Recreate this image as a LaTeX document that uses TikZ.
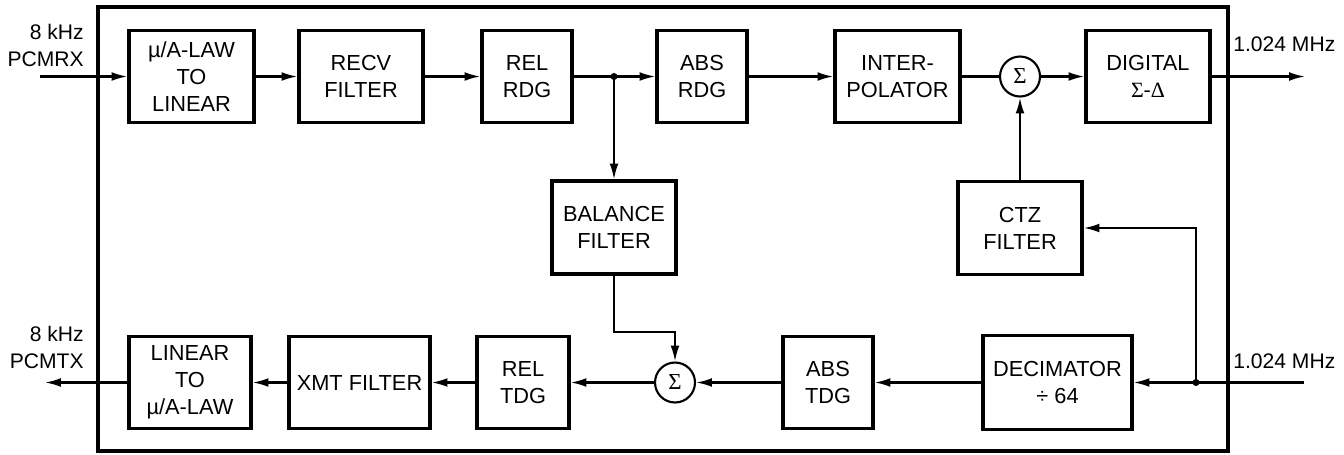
\documentclass[tikz,border=0pt]{standalone}
\usepackage{fontspec}
\setmainfont{Liberation Sans}
\newfontfamily\symfont{Liberation Serif}
\usetikzlibrary{arrows.meta}

\begin{document}
\begin{tikzpicture}[x=0.02cm, y=-0.02cm, >={Latex[length=9pt,width=5pt]},
    box/.style={draw, line width=1.8pt, align=center, inner sep=0pt,
        minimum height=1.84cm, font=\fontsize{12.4}{15.3}\selectfont},
    sumnode/.style={draw, circle, line width=1.2pt, minimum size=0.8cm,
        inner sep=0pt, font=\symfont\fontsize{13}{13}\selectfont},
    wire/.style={line width=1.2pt},
    lbl/.style={inner sep=0pt, align=right, font=\fontsize{12}{15.3}\selectfont}]
    \useasboundingbox (0,0) rectangle (1344,454);

    % 外框
    \draw[line width=1.8pt] (98,7) rectangle (1228,451);

    % 接收通道
    \node[box, minimum width=2.5cm] (mulaw) at (191.5,76.5) {µ/A-LAW\\TO\\LINEAR};
    \node[box, minimum width=2.48cm] (recv) at (361,76.5) {RECV\\FILTER};
    \node[box, minimum width=1.8cm] (relrdg) at (527,76.5) {REL\\RDG};
    \node[box, minimum width=1.8cm] (absrdg) at (702,76.5) {ABS\\RDG};
    \node[box, minimum width=2.5cm] (interp) at (897.5,76.5) {INTER-\\POLATOR};
    \node[sumnode] (sumr) at (1020,76.5) {Σ};
    \node[box, minimum width=2.48cm] (digital) at (1148,76.5) {DIGITAL\\{\symfont Σ}-{\symfont Δ}};

    % 中间
    \node[box, minimum width=2.48cm, minimum height=1.86cm] (balance) at (614,227.5) {BALANCE\\FILTER};
    \node[box, minimum width=2.48cm, minimum height=1.86cm] (ctz) at (1020,228) {CTZ\\FILTER};

    % 发送通道
    \node[box, minimum width=2.44cm] (lin) at (190,382.5) {LINEAR\\TO\\µ/A-LAW};
    \node[box, minimum width=2.82cm] (xmt) at (359.5,382.5) {XMT FILTER};
    \node[box, minimum width=1.84cm] (reltdg) at (523,382.5) {REL\\TDG};
    \node[sumnode] (sumt) at (675,382.5) {Σ};
    \node[box, minimum width=1.8cm] (abstdg) at (828,382.5) {ABS\\TDG};
    \node[box, minimum width=2.98cm, minimum height=1.88cm] (decim) at (1057.5,382.5) {DECIMATOR\\÷ 64};

    % 端口标注
    \node[lbl, anchor=south east] (rxlbl) at (84,67) {8 kHz\\PCMRX};
    \node[lbl, anchor=south east] (txlbl) at (84,369) {8 kHz\\PCMTX};
    \node[lbl, anchor=south west, align=left] (doutlbl) at (1233,52) {1.024 MHz};
    \node[lbl, anchor=south west, align=left] (dinlbl) at (1233,369) {1.024 MHz};

    \coordinate (rxin) at (40,76.5);
    \coordinate (txout) at (45,382.5);
    \coordinate (dout) at (1305,76.5);
    \coordinate (din) at (1304,382.5);
    \coordinate (split) at (614,76.5);
    \coordinate (fork) at (1196,382.5);
    \coordinate (bend) at (675,332);

    % 上排连线
    \draw[wire, ->] (rxin) -- (mulaw);
    \draw[wire, ->] (mulaw) -- (recv);
    \draw[wire, ->] (recv) -- (relrdg);
    \draw[wire, ->] (relrdg) -- (absrdg);
    \draw[wire, ->] (absrdg) -- (interp);
    \draw[wire] (interp) -- (sumr);
    \draw[wire, ->] (sumr) -- (digital);
    \draw[wire, ->] (digital) -- (dout);
    \draw[wire, ->] (split) -- (balance);
    \fill (split) circle (2pt);
    \draw[wire, ->] (ctz) -- (sumr);

    % 下排连线
    \draw[wire, ->] (din) -- (decim);
    \draw[wire, ->] (fork) |- (ctz);
    \fill (fork) circle (2pt);
    \draw[wire, ->] (decim) -- (abstdg);
    \draw[wire, ->] (abstdg) -- (sumt);
    \draw[wire, ->] (balance.south) |- (bend) -- (sumt);
    \draw[wire, ->] (sumt) -- (reltdg);
    \draw[wire, ->] (reltdg) -- (xmt);
    \draw[wire, ->] (xmt) -- (lin);
    \draw[wire, ->] (lin) -- (txout);
\end{tikzpicture}
\end{document}
